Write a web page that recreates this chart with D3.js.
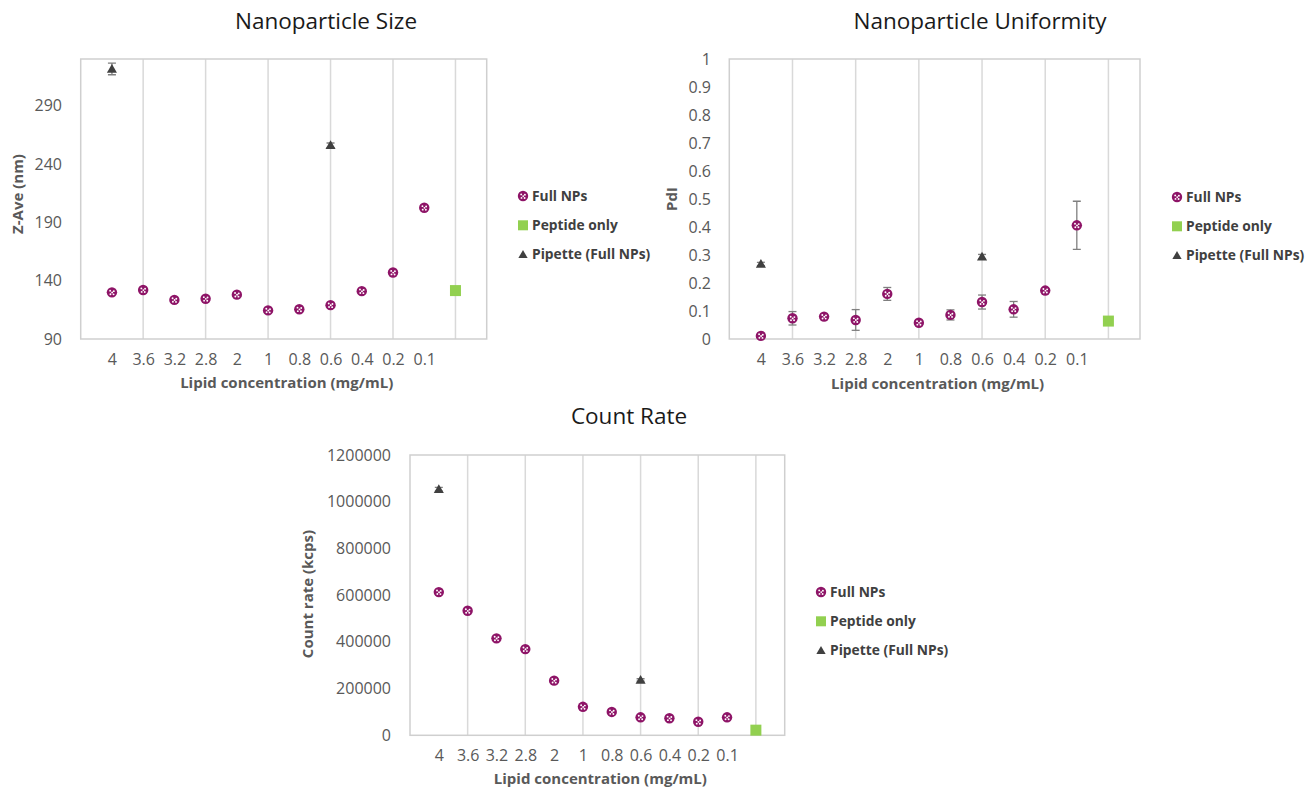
<!DOCTYPE html>
<html><head><meta charset="utf-8">
<script src="https://cdn.jsdelivr.net/npm/d3@7"></script>
<style>body{margin:0;background:#fff;} svg{display:block;font-family:"Open Sans","Noto Sans",sans-serif;}</style>
</head><body>
<svg id="c" width="1306" height="789"></svg>
<script>
// ---- data ----
const xLabels = ["4","3.6","3.2","2.8","2","1","0.8","0.6","0.4","0.2","0.1"];
const fullIdx = [1,2,3,4,5,6,7,8,9,10,11];
const peptideIdx = [12];
const pipetteIdx = [1,8];

const sizeFull = [130,132,123.5,124.5,128,114.5,115.5,119,131,147,202.5];
const sizeFullErr = [0,0,0,0,0,0,0,0,0,0,0];
const sizePeptide = [131.5];
const sizePipette = [321.5,256];
const sizePipetteErr = [5,2];

const pdiFull = [0.011,0.074,0.080,0.068,0.161,0.058,0.086,0.132,0.106,0.173,0.406];
const pdiFullErr = [0,0.024,0.005,0.037,0.023,0.005,0.018,0.025,0.028,0.005,0.086];
const pdiPeptide = [0.064];
const pdiPipette = [0.268,0.294];
const pdiPipetteErr = [0.006,0.008];

const crFull = [613000,533000,415000,369000,234000,122000,100000,77000,73000,58000,77000];
const crFullErr = [0,0,0,0,0,0,0,0,0,0,0];
const crPeptide = [22000];
const crPipette = [1053000,237000];
const crPipetteErr = [8000,5000];

const sizeTicks = [90,140,190,240,290];
const pdiTicks = [0,0.1,0.2,0.3,0.4,0.5,0.6,0.7,0.8,0.9,1];
const crTicks = [0,200000,400000,600000,800000,1000000,1200000];
const gridX = [2,4,6,8,10,12];
const legendNames = ["Full NPs","Peptide only","Pipette (Full NPs)"];

// ---- styles ----
const PURPLE = "#8e1467", GREEN = "#92d050", DARK = "#404040";
const svg = d3.select("#c");

function drawFullMarker(g, x, y){
  g.append("circle").attr("cx",x).attr("cy",y).attr("r",5.2).attr("fill",PURPLE);
  const dots=[[-1.8,-1.6],[1.9,-1.2],[-1.5,1.9],[1.6,2.0],[0.2,0.1]];
  dots.forEach(d=>g.append("circle").attr("cx",x+d[0]).attr("cy",y+d[1]).attr("r",0.95).attr("fill","#fff"));
}
function drawSquare(g,x,y){ g.append("rect").attr("x",x-5.5).attr("y",y-5.5).attr("width",11).attr("height",11).attr("fill",GREEN); }
function drawTri(g,x,y,s){ s=s||1; g.append("path").attr("d",d3.symbol(d3.symbolTriangle, 44*s)()).attr("transform",`translate(${x},${y+0.8})`).attr("fill",DARK); }

function chart(o){
  const x = d3.scaleLinear().domain([0,13]).range([o.left,o.right]);
  const y = d3.scaleLinear().domain(o.yDomain).range([o.bottom,o.top]);
  const g = svg.append("g");
  // title
  g.append("text").attr("x",o.titleX).attr("y",o.titleY).attr("text-anchor","middle")
    .attr("font-size",22.5).attr("fill","#1a1a1a").text(o.title);
  // gridlines
  g.selectAll(".gx").data(gridX).enter().append("line")
    .attr("x1",d=>x(d)).attr("x2",d=>x(d)).attr("y1",o.top).attr("y2",o.bottom)
    .attr("stroke","#d9d9d9").attr("stroke-width",1.5);
  // border
  g.append("rect").attr("x",o.left).attr("y",o.top).attr("width",o.right-o.left).attr("height",o.bottom-o.top)
    .attr("fill","none").attr("stroke","#cfcfcf").attr("stroke-width",1.5);
  // y axis
  const ya = d3.axisLeft(y).tickValues(o.yTicks).tickSize(0).tickPadding(0).tickFormat(o.fmt);
  const yg = g.append("g").attr("transform",`translate(${o.yLabelX},0)`).call(ya);
  yg.select(".domain").remove();
  yg.selectAll("text").attr("font-size",16).attr("fill","#595959").attr("font-family","\"Open Sans\",sans-serif");
  // x labels via scale
  const xa = d3.axisBottom(x).tickValues(fullIdx).tickSize(0).tickPadding(0).tickFormat(d=>xLabels[d-1]);
  const xg = g.append("g").attr("transform",`translate(0,${o.xLabelY})`).call(xa);
  xg.select(".domain").remove();
  xg.selectAll("text").attr("font-size",16).attr("fill","#595959").attr("font-family","\"Open Sans\",sans-serif").attr("dy","0.35em");
  // axis titles
  g.append("text").attr("x",(o.left+o.right)/2+3).attr("y",o.xTitleY).attr("text-anchor","middle").attr("dy","0.35em")
    .attr("font-size",15).attr("font-weight","bold").attr("fill","#595959").text("Lipid concentration (mg/mL)");
  g.append("text").attr("transform",`translate(${o.yTitleX},${o.yTitleY}) rotate(-90)`).attr("text-anchor","middle").attr("dy","0.35em")
    .attr("font-size",15).attr("font-weight","bold").attr("fill","#595959").text(o.yTitle);
  // error bars
  const clipId = "clip"+o.id;
  g.append("clipPath").attr("id",clipId).append("rect").attr("x",o.left).attr("y",o.top).attr("width",o.right-o.left).attr("height",o.bottom-o.top);
  const eg = g.append("g").attr("clip-path",`url(#${clipId})`);
  function errs(idx, vals, es){
    idx.forEach((xi,i)=>{
      const e=es[i]; if(!e) return;
      const cx=x(xi), y1=y(vals[i]-e), y2=y(vals[i]+e);
      eg.append("line").attr("x1",cx).attr("x2",cx).attr("y1",y1).attr("y2",y2).attr("stroke","#7f7f7f").attr("stroke-width",1.3);
      [y1,y2].forEach(yy=>eg.append("line").attr("x1",cx-4).attr("x2",cx+4).attr("y1",yy).attr("y2",yy).attr("stroke","#7f7f7f").attr("stroke-width",1.3));
    });
  }
  errs(fullIdx,o.full,o.fullErr);
  errs(pipetteIdx,o.pip,o.pipErr);
  // markers
  const mg = g.append("g");
  fullIdx.forEach((xi,i)=>drawFullMarker(mg,x(xi),y(o.full[i])));
  peptideIdx.forEach((xi,i)=>drawSquare(mg,x(xi),y(o.pep[i])));
  pipetteIdx.forEach((xi,i)=>drawTri(mg,x(xi),y(o.pip[i])));
  // legend
  const lg = g.append("g");
  legendNames.forEach((n,i)=>{
    const ly = o.legY + i*29.3;
    if(i===0) drawFullMarker(lg,o.legX,ly);
    if(i===1) lg.append("rect").attr("x",o.legX-5).attr("y",ly-5).attr("width",10).attr("height",10).attr("fill",GREEN);
    if(i===2) drawTri(lg,o.legX,ly,0.85);
    lg.append("text").attr("x",o.legX+9).attr("y",ly).attr("dy","0.35em").attr("font-size",13.8).attr("font-weight","bold")
      .attr("fill",DARK).text(n);
  });
}

chart({id:1,title:"Nanoparticle Size",titleX:326,titleY:29,left:80.7,right:486.7,top:59,bottom:339,
  yDomain:[90,330],yTicks:sizeTicks,fmt:d3.format("d"),yLabelX:62,xLabelY:359,xTitleY:383,
  yTitle:"Z-Ave (nm)",yTitleX:18,yTitleY:194,
  full:sizeFull,fullErr:sizeFullErr,pep:sizePeptide,pip:sizePipette,pipErr:sizePipetteErr,legX:523,legY:196});

chart({id:2,title:"Nanoparticle Uniformity",titleX:980,titleY:29,left:729.3,right:1140,top:59,bottom:339,
  yDomain:[0,1],yTicks:pdiTicks,fmt:d=>d3.format("")(+d.toFixed(1)),yLabelX:711,xLabelY:359,xTitleY:384,
  yTitle:"PdI",yTitleX:672,yTitleY:199,
  full:pdiFull,fullErr:pdiFullErr,pep:pdiPeptide,pip:pdiPipette,pipErr:pdiPipetteErr,legX:1177,legY:197});

chart({id:3,title:"Count Rate",titleX:629,titleY:424,left:410,right:784.7,top:455,bottom:735.3,
  yDomain:[0,1200000],yTicks:crTicks,fmt:d3.format("d"),yLabelX:391,xLabelY:755,xTitleY:779,
  yTitle:"Count rate (kcps)",yTitleX:308,yTitleY:594,
  full:crFull,fullErr:crFullErr,pep:crPeptide,pip:crPipette,pipErr:crPipetteErr,legX:821,legY:592});
</script>
</body></html>
